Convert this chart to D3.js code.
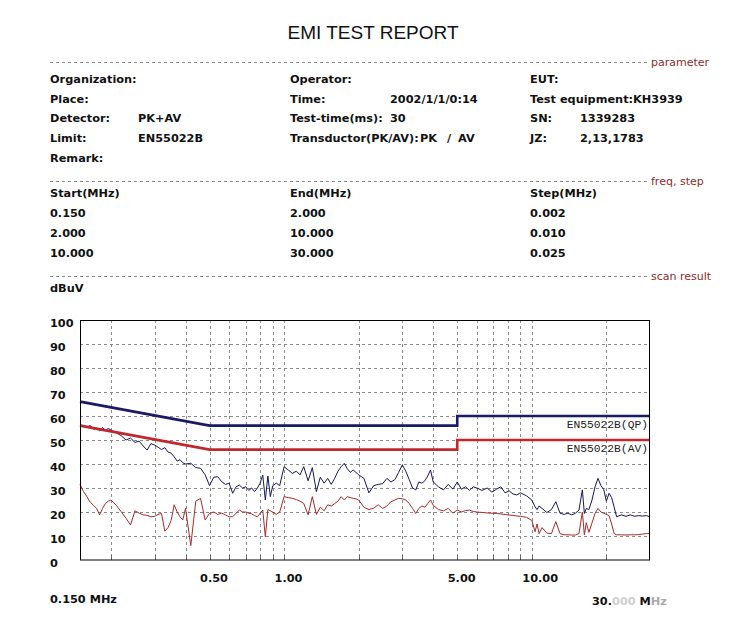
<!DOCTYPE html>
<html><head><meta charset="utf-8">
<script src="https://cdn.jsdelivr.net/npm/d3@7/dist/d3.min.js"></script>
<style>
html,body{margin:0;padding:0;background:#fff;}
svg{display:block;}
.b{font-family:"DejaVu Sans",sans-serif;font-weight:bold;font-size:11.3px;fill:#111;}
.sec{font-family:"DejaVu Sans",sans-serif;font-size:11px;fill:#8b2d2d;}
</style>
</head><body>
<svg id="c" width="750" height="628"></svg>
<script>
// ---- data ----
const freqs = [0.150,0.155,0.160,0.165,0.170,0.175,0.180,0.185,0.190,0.195,0.20,0.21,0.22,0.23,0.24,0.25,0.26,0.27,0.28,0.29,0.30,0.31,0.32,0.33,0.34,0.35,0.36,0.37,0.38,0.39,0.40,0.42,0.44,0.46,0.48,0.50,0.52,0.54,0.56,0.58,0.60,0.62,0.64,0.66,0.68,0.70,0.72,0.74,0.76,0.78,0.80,0.82,0.84,0.86,0.88,0.90,0.93,0.96,1.00,1.04,1.08,1.12,1.16,1.20,1.25,1.30,1.35,1.40,1.45,1.50,1.55,1.60,1.65,1.70,1.75,1.80,1.85,1.90,1.95,2.00,2.1,2.2,2.3,2.4,2.5,2.6,2.7,2.8,2.9,3.0,3.1,3.2,3.3,3.4,3.5,3.6,3.7,3.8,3.9,4.0,4.2,4.4,4.6,4.8,5.0,5.2,5.4,5.6,5.8,6.0,6.3,6.6,6.9,7.2,7.5,7.8,8.1,8.4,8.7,9.0,9.5,10,10.3,10.5,10.7,11,11.5,12,12.5,13,13.5,14,14.5,15,15.5,16,16.3,16.6,17,17.5,18,18.5,19,19.5,20,20.5,21,21.5,22,23,24,25,26,27,28,29,30];
const pkValues = [56.3,56.0,55.5,56.0,54.5,55.0,53.8,55.2,54.0,54.8,54.2,53.0,51.8,50.0,50.8,49.0,49.5,47.5,45.8,48.5,47.9,47.0,46.0,46.8,45.0,44.5,43.0,41.2,41.8,40.5,40.0,40.3,38.5,38.2,35.5,31.0,34.5,34.7,32.6,31.5,32.0,27.8,30.5,31.2,30.0,30.5,29.0,30.0,28.5,30.0,32.0,35.4,25.0,35.0,26.4,31.0,32.0,31.0,38.9,37.5,36.1,37.0,35.5,38.9,33.0,38.5,28.5,34.5,32.0,34.0,31.5,34.0,37.0,38.9,40.3,38.0,36.5,37.5,36.5,35.5,34.0,28.0,31.0,31.5,31.8,34.0,32.5,33.5,36.5,39.6,37.0,33.5,30.0,29.2,32.5,32.0,33.0,35.0,37.5,32.5,30.5,29.2,31.5,29.5,32.5,29.5,30.5,29.0,30.5,30.0,29.0,30.0,28.3,29.5,30.5,28.0,28.8,27.5,27.1,28.0,26.8,25.0,22.2,21.0,22.5,21.5,19.8,21.0,24.3,19.5,19.0,19.5,18.8,19.5,20.8,29.2,19.4,21.5,21.0,25.0,30.5,34.0,31.0,29.5,24.5,27.8,26.0,22.0,18.0,18.8,18.2,18.8,18.2,18.5,18.3,18.5,18.0];
const avValues = [31.5,28.5,26.4,24.0,22.8,21.5,18.8,21.5,23.6,24.5,25.0,22.8,20.1,17.4,14.6,20.5,19.5,18.8,18.6,18.0,18.2,19.0,19.4,12.0,13.5,16.5,23.0,20.0,18.0,16.7,21.5,6.0,24.5,25.7,16.7,19.4,20.0,19.0,19.5,18.8,18.0,18.0,19.5,20.8,20.0,20.0,19.5,19.2,18.5,18.0,19.5,20.8,9.7,21.0,20.5,20.0,19.0,20.0,26.4,26.0,25.7,25.2,24.5,23.6,18.8,26.4,19.0,22.0,20.5,23.0,22.5,23.5,24.5,26.4,25.0,26.4,26.0,25.7,25.5,25.0,22.0,21.0,21.6,23.0,21.5,22.5,24.3,25.0,25.7,25.5,25.0,23.5,21.5,19.4,21.5,22.5,22.0,23.5,25.0,22.8,21.0,20.5,21.5,19.5,20.8,20.0,20.6,20.8,20.2,20.0,19.8,19.6,19.5,19.4,19.2,19.0,18.7,18.6,18.3,18.2,17.8,16.5,11.8,15.0,11.0,13.5,11.2,11.0,16.0,11.0,10.5,10.5,10.4,10.4,11.0,20.0,10.5,15.5,11.5,15.5,19.4,21.5,20.0,19.5,19.0,18.5,15.0,11.0,10.5,10.5,10.4,10.5,10.5,10.6,10.8,11.0,11.0];
const limitFreqs = [0.15, 0.5, 5, 5, 30];
const qpLimit = [66, 56, 56, 60, 60];
const avLimit = [56, 46, 46, 50, 50];
const yTicks = [0,10,20,30,40,50,60,70,80,90,100];
const gridFreqs = [0.2,0.3,0.4,0.5,0.6,0.7,0.8,0.9,1,2,3,4,5,6,7,8,9,10,20];
const xLabelFreqs = [0.5, 1, 5, 10];
const xLabelTexts = ["0.50","1.00","5.00","10.00"];

const paramRows = [
  [["Organization:",50],["Operator:",290],["EUT:",530]],
  [["Place:",50],["Time:",290],["2002/1/1/0:14",390],["Test equipment:KH3939",530]],
  [["Detector:",50],["PK+AV",138],["Test-time(ms):",290],["30",390],["SN:",530],["1339283",580]],
  [["Limit:",50],["EN55022B",138],["Transductor(PK/AV):",290],["PK",420],["/",447],["AV",458],["JZ:",530],["2,13,1783",580]],
  [["Remark:",50]]
];
const paramY = [78.5, 98.5, 118, 138, 157.5];
const freqHeader = ["Start(MHz)","End(MHz)","Step(MHz)"];
const freqRows = [["0.150","2.000","0.002"],["2.000","10.000","0.010"],["10.000","30.000","0.025"]];
const freqY = [193, 213, 233, 253];
const freqX = [50, 290, 530];
const sections = [["parameter",62],["freq, step",181],["scan result",276]];

// ---- drawing ----
const svg = d3.select("#c");
svg.append("rect").attr("width",750).attr("height",628).attr("fill","#fff");

svg.append("text").attr("x",373).attr("y",38.5).attr("text-anchor","middle")
  .attr("font-family","Liberation Sans, Arial, sans-serif").attr("font-size",19).attr("fill","#111")
  .text("EMI TEST REPORT");

sections.forEach(([t,y])=>{
  svg.append("line").attr("x1",50).attr("x2",647).attr("y1",y+0.5).attr("y2",y+0.5)
    .attr("stroke","#888").attr("stroke-dasharray","3,3");
  svg.append("text").attr("class","sec").attr("x",651).attr("y",y).attr("dy","0.36em").text(t);
});

paramRows.forEach((row,i)=>{
  row.forEach(([t,x])=>{
    svg.append("text").attr("class","b").attr("x",x).attr("y",paramY[i]).attr("dy","0.36em").text(t);
  });
});
freqHeader.forEach((t,j)=>svg.append("text").attr("class","b").attr("x",freqX[j]).attr("y",freqY[0]).attr("dy","0.36em").text(t));
freqRows.forEach((r,i)=>r.forEach((t,j)=>svg.append("text").attr("class","b").attr("x",freqX[j]).attr("y",freqY[i+1]).attr("dy","0.36em").text(t)));

svg.append("text").attr("class","b").attr("x",50).attr("y",288).attr("dy","0.36em").text("dBuV");

const x = d3.scaleLog().domain([0.15,30]).range([80,650]);
const y = d3.scaleLinear().domain([0,100]).range([560,320]);

const g = svg.append("g");
// grid
g.selectAll(".hg").data(yTicks.filter(v=>v>0&&v<100)).enter().append("line")
  .attr("x1",80).attr("x2",650).attr("y1",d=>Math.round(y(d))+0.5).attr("y2",d=>Math.round(y(d))+0.5)
  .attr("stroke","#8a8a8a").attr("stroke-dasharray","3,3");
g.selectAll(".vg").data(gridFreqs).enter().append("line")
  .attr("x1",d=>Math.round(x(d))+0.5).attr("x2",d=>Math.round(x(d))+0.5).attr("y1",320).attr("y2",560)
  .attr("stroke","#8a8a8a").attr("stroke-dasharray","3,3");
g.selectAll(".tk").data(gridFreqs).enter().append("line")
  .attr("x1",d=>Math.round(x(d))+0.5).attr("x2",d=>Math.round(x(d))+0.5).attr("y1",555).attr("y2",560)
  .attr("stroke","#666");

// y labels
svg.selectAll(".yl").data(yTicks).enter().append("text").attr("class","b")
  .attr("x",50).attr("y",d=>y(d)+2.5).attr("dy","0.36em").text(d=>d);
// x labels
svg.selectAll(".xl").data(xLabelFreqs).enter().append("text").attr("class","b")
  .attr("x",d=>x(d)-9.5).attr("y",578).attr("dy","0.36em").text((d,i)=>xLabelTexts[i]);
svg.append("text").attr("class","b").attr("x",50).attr("y",599).attr("dy","0.36em").text("0.150 MHz");
const rt = svg.append("text").attr("class","b").attr("x",592).attr("y",601).attr("dy","0.36em");
rt.append("tspan").text("30.");
rt.append("tspan").attr("fill","#cfcfcf").text("000");
rt.append("tspan").text(" M");
rt.append("tspan").attr("fill","#aaa").text("Hz");

const line = d3.line().x(d=>x(d[0])).y(d=>y(d[1]));
const lim = (vals)=>limitFreqs.map((f,i)=>[f,vals[i]]);

// traces
g.append("path").attr("d",line(freqs.map((f,i)=>[f,avValues[i]]))).attr("fill","none")
  .attr("stroke","#a52a2a").attr("stroke-width",1);
g.append("path").attr("d",line(freqs.map((f,i)=>[f,pkValues[i]]))).attr("fill","none")
  .attr("stroke","#16165a").attr("stroke-width",1);
// limits
g.append("path").attr("d",line(lim(avLimit))).attr("fill","none").attr("stroke","#c0282d").attr("stroke-width",2.6);
g.append("path").attr("d",line(lim(qpLimit))).attr("fill","none").attr("stroke","#1a1a66").attr("stroke-width",2.6);

// limit labels
const mono = {"font-family":"Liberation Mono, monospace","font-size":"11.3px","fill":"#222"};
const l1 = svg.append("text").attr("x",648).attr("y",y(qpLimit[4])+7.5).attr("dy","0.36em").attr("text-anchor","end").text("EN55022B(QP)");
const l2 = svg.append("text").attr("x",648).attr("y",y(avLimit[4])+7.5).attr("dy","0.36em").attr("text-anchor","end").text("EN55022B(AV)");
[l1,l2].forEach(t=>Object.entries(mono).forEach(([k,v])=>t.attr(k,v)));

// frame
svg.append("rect").attr("x",80.5).attr("y",320.5).attr("width",569).attr("height",239.5)
  .attr("fill","none").attr("stroke","#000").attr("stroke-width",1);
</script>
</body></html>
